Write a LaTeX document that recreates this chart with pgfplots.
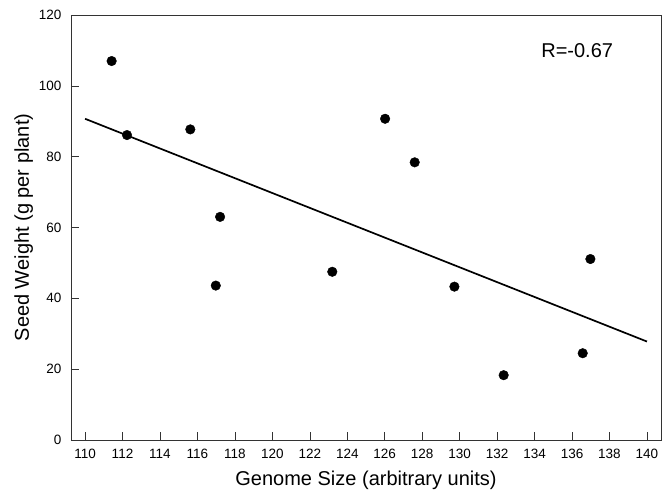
\documentclass[border=0pt]{standalone}
\usepackage{fontspec}
\setmainfont{Liberation Sans}
\usepackage{pgfplots}
\pgfplotsset{compat=1.18}

\begin{document}
\begin{tikzpicture}
  \useasboundingbox (-71bp,-53bp) rectangle (597bp,440bp);
  \begin{axis}[
      scale only axis,
      width=590bp, height=425bp,
      xmin=109.25, xmax=140.75,
      ymin=0, ymax=120,
      xtick={110,112,...,140},
      ytick={0,20,...,120},
      tick pos=left,
      tick align=inside,
      major tick length=8bp,
      axis line style={line width=0.7bp, black!80},
      every tick/.style={line width=0.6bp, black!80},
      /pgf/number format/assume math mode=true,
      ticklabel style={font=\fontsize{13.5bp}{15bp}\selectfont},
      xticklabel style={yshift=-6bp},
      yticklabel style={xshift=-6bp},
      xlabel={Genome Size (arbitrary units)},
      ylabel={Seed Weight (g per plant)},
      xlabel style={yshift=-5bp},
      ylabel style={yshift=-1bp},
      label style={font=\fontsize{20bp}{24bp}\selectfont},
    ]
    % data points
    \addplot[only marks, mark=*, mark size=4.8bp, black] coordinates {
      (111.42,107.0) (112.24,86.1) (115.62,87.7) (117.21,63.0)
      (116.98,43.6) (123.20,47.5) (126.02,90.7) (127.60,78.4)
      (129.72,43.3) (132.35,18.3) (136.57,24.5) (136.98,51.1)
    };
    % regression line
    \addplot[black, line width=1.7bp] coordinates {(110,90.7) (140,27.8)};
    \node[font=\fontsize{20bp}{22bp}\selectfont, anchor=base west, inner sep=0pt]
      at (axis cs:134.35,107.9) {R=-0.67};
  \end{axis}
\end{tikzpicture}
\end{document}
